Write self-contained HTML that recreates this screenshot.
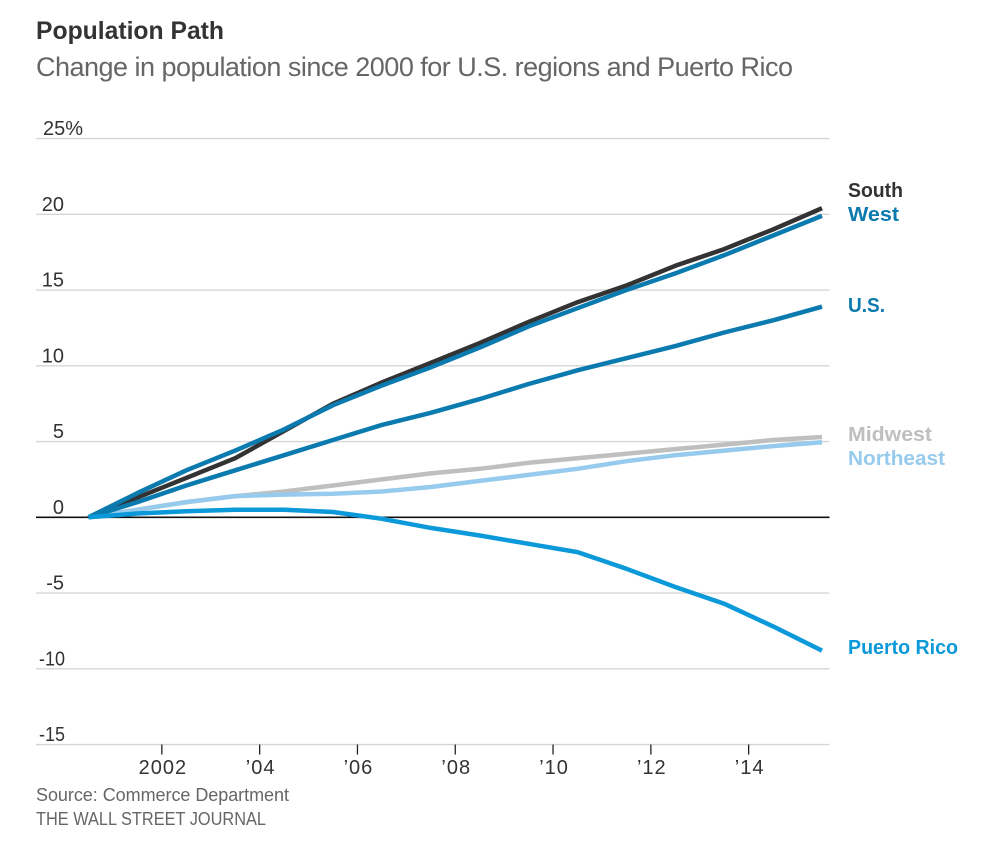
<!DOCTYPE html>
<html lang="en">
<head>
<meta charset="utf-8">
<title>Population Path</title>
<style>
html,body{margin:0;padding:0;background:#fff;width:991px;height:844px;overflow:hidden}
svg{display:block;font-family:"Liberation Sans",sans-serif}
</style>
</head>
<body>
<svg id="chart" width="991" height="844" viewBox="0 0 991 844">
<text x="36" y="39" font-size="25" font-weight="700" fill="#333" textLength="188" lengthAdjust="spacingAndGlyphs">Population Path</text>
<text x="36" y="76" font-size="27" fill="#666" textLength="757" lengthAdjust="spacing">Change in population since 2000 for U.S. regions and Puerto Rico</text>
<g id="grid"></g>
<g id="ylabels"></g>
<g id="xaxis"></g>
<g id="lines"></g>
<g id="labels"></g>
<text x="36" y="801" font-size="18" fill="#666" textLength="253" lengthAdjust="spacing">Source: Commerce Department</text>
<text x="36" y="825" font-size="18" fill="#666" textLength="230" lengthAdjust="spacingAndGlyphs">THE WALL STREET JOURNAL</text>
</svg>
<script>
const years = [2000.5,2001.5,2002.5,2003.5,2004.5,2005.5,2006.5,2007.5,2008.5,2009.5,2010.5,2011.5,2012.5,2013.5,2014.5,2015.5];
const southValues = [0,1.3,2.6,3.9,5.7,7.5,8.9,10.2,11.5,12.9,14.2,15.3,16.6,17.7,19.0,20.4];
const westValues = [0,1.6,3.1,4.4,5.8,7.4,8.7,9.9,11.2,12.6,13.8,15.0,16.1,17.3,18.6,19.9];
const usValues = [0,1.0,2.1,3.1,4.1,5.1,6.1,6.9,7.8,8.8,9.7,10.5,11.3,12.2,13.0,13.9];
const midwestValues = [0,0.5,1.0,1.4,1.7,2.1,2.5,2.9,3.2,3.6,3.9,4.2,4.5,4.8,5.1,5.3];
const northeastValues = [0,0.5,1.0,1.4,1.5,1.55,1.7,2.0,2.4,2.8,3.2,3.7,4.1,4.4,4.7,4.95];
const puertoRicoValues = [0,0.25,0.4,0.5,0.5,0.35,-0.1,-0.7,-1.2,-1.75,-2.3,-3.4,-4.6,-5.7,-7.2,-8.8];
const yTicks = [25,20,15,10,5,0,-5,-10,-15];
const yTickLabels = ["25%","20","15","10","5","0","-5","-10","-15"];
const xTicks = [2002,2004,2006,2008,2010,2012,2014];
const xTickLabels = ["2002","\u201904","\u201906","\u201908","\u201910","\u201912","\u201914"];

const NS = "http://www.w3.org/2000/svg";
function xScale(v){ return 88.5 + (v - 2000.5) * 48.9; }
function yScale(v){ return 517.3 - v * 15.15; }
function make(tag, parent, attrs, text){
  const el = document.createElementNS(NS, tag);
  for (const k in attrs) el.setAttribute(k, attrs[k]);
  if (text !== undefined) el.textContent = text;
  parent.appendChild(el);
  return el;
}

const grid = document.getElementById("grid");
const ylabels = document.getElementById("ylabels");
yTicks.forEach(function(v, i){
  const line = make("line", grid, {x1:36, x2:829.5, y1:yScale(v), y2:yScale(v),
    stroke: v === 0 ? "#111" : "#d6d6d6", "stroke-width": v === 0 ? 1.6 : 1.4});
  
  
  const isTop = i === 0;
  const isLongNegative = v < 0 && yTickLabels[i].length > 2;
  const attrs = {x: isTop ? 43 : (isLongNegative ? 65 : 64), y: yScale(v) - 3.5, "font-size": 20, fill: "#333",
    "text-anchor": isTop ? "start" : "end"};
  if (isLongNegative) { attrs.textLength = 26; attrs.lengthAdjust = "spacingAndGlyphs"; }
  const label = make("text", ylabels, attrs, yTickLabels[i]);
  
  
});

const xaxis = document.getElementById("xaxis");
xTicks.forEach(function(v, i){
  const x = xScale(v);
  const tick = make("line", xaxis, {x1:x, x2:x, y1:yScale(-15), y2:yScale(-15) + 10, stroke:"#222", "stroke-width":1.3});
  
  
  const label = make("text", xaxis, {x: x + 1, y: 774, "font-size": 20, fill: "#333", "letter-spacing": 1, "text-anchor": "middle"}, xTickLabels[i]);
  
  
});

function drawSeries(values, color, name){
  const d = values.map(function(v, i){
    return (i ? "L" : "M") + xScale(years[i]).toFixed(1) + " " + yScale(v).toFixed(1);
  }).join(" ");
  const path = make("path", document.getElementById("lines"), {d:d, fill:"none", stroke:color, "stroke-width":4.5, "stroke-linejoin":"round"});
  
  
}
drawSeries(midwestValues, "#bfbfbf", "midwest-line");
drawSeries(northeastValues, "#97cbee", "northeast-line");
drawSeries(southValues, "#333333", "south-line");
drawSeries(westValues, "#0a7aaf", "west-line");
drawSeries(usValues, "#0a7aaf", "us-line");
drawSeries(puertoRicoValues, "#0b99d9", "puerto-rico-line");

function drawLabel(text, y, color, width, name){
  const el = make("text", document.getElementById("labels"), {x:848, y:y, "font-size":20, "font-weight":700, fill:color,
    textLength:width, lengthAdjust:"spacingAndGlyphs"}, text);
  
  
}
drawLabel("South", 197, "#333333", 55, "south-label");
drawLabel("West", 221, "#0a7aaf", 51, "west-label");
drawLabel("U.S.", 312, "#0a7aaf", 37, "us-label");
drawLabel("Midwest", 441, "#bfbfbf", 84, "midwest-label");
drawLabel("Northeast", 465, "#97cbee", 97, "northeast-label");
drawLabel("Puerto Rico", 654, "#0b99d9", 110, "puerto-rico-label");
</script>
</body>
</html>
